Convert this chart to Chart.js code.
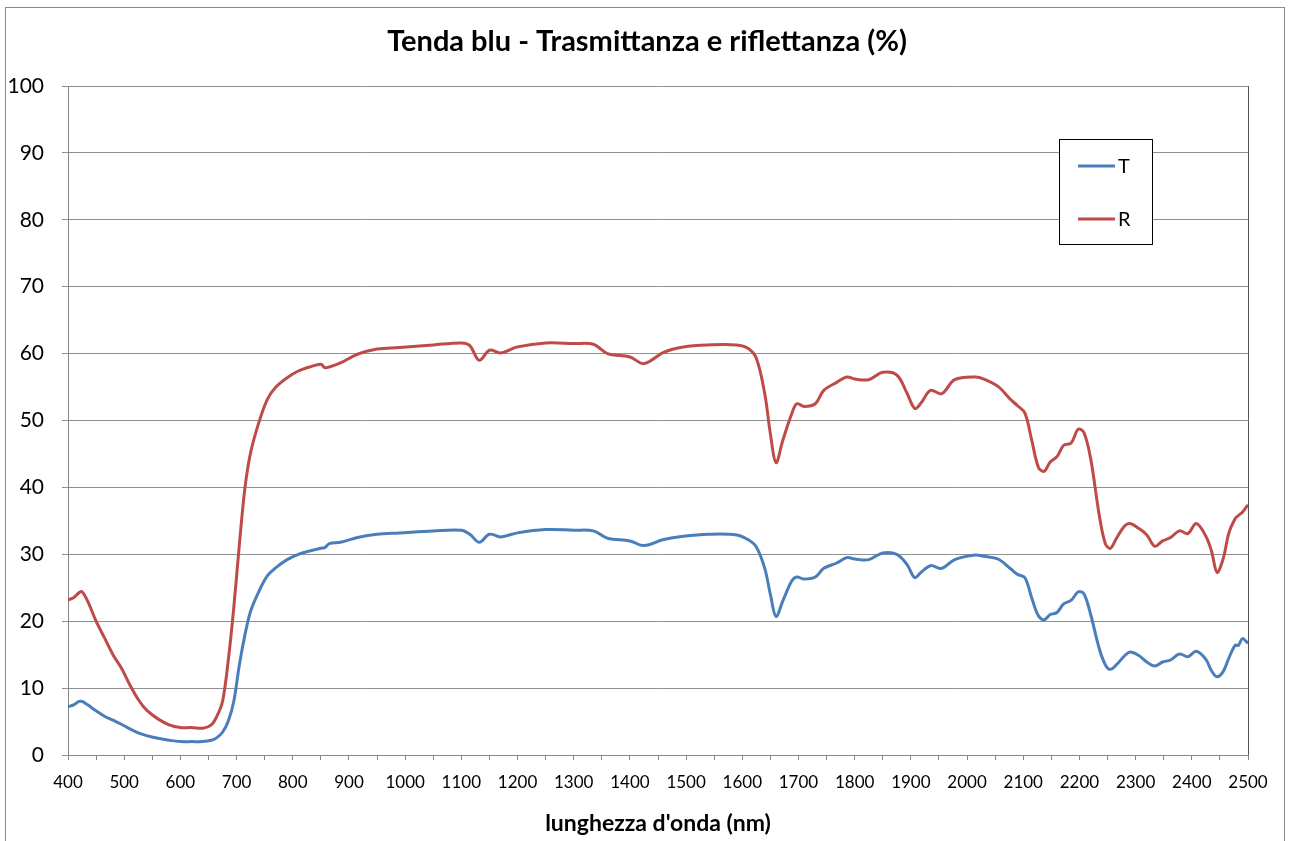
<!DOCTYPE html>
<html>
<head>
<meta charset="utf-8">
<script src="https://cdn.jsdelivr.net/npm/chart.js@4.4.0/dist/chart.umd.min.js"></script>
<style>
  html, body { margin: 0; padding: 0; background: #fff; }
  #wrap { width: 1290px; height: 841px; position: relative; }
</style>
</head>
<body>
<div id="wrap"><canvas id="chart" width="1290" height="841"></canvas></div>
<script>
// wavelength (nm)
const wavelengths = [
  400, 410, 420, 425, 435, 450, 465, 480, 495, 510, 525, 540, 560, 580, 600, 620, 640, 655, 665, 675,
  685, 695, 705, 715, 725, 740, 755, 770, 790, 810, 830, 850, 857, 865, 885, 915, 950, 990, 1050, 1100,
  1115, 1132, 1150, 1170, 1200, 1250, 1300, 1335, 1360, 1400, 1425, 1460, 1495, 1540, 1590, 1610, 1625, 1640, 1650, 1660,
  1672, 1688, 1697, 1710, 1730, 1745, 1768, 1786, 1800, 1825, 1850, 1875, 1893, 1907, 1918, 1935, 1955, 1978, 2015, 2030,
  2055, 2078, 2090, 2103, 2115, 2127, 2137, 2148, 2160, 2172, 2185, 2198, 2208, 2220, 2235, 2246, 2255, 2266, 2280, 2290,
  2305, 2320, 2334, 2348, 2362, 2378, 2393, 2408, 2425, 2435, 2445, 2456, 2466, 2477, 2483, 2490, 2500
];
// Trasmittanza (%)
const trasmittanza = [
  7.2, 7.5, 8.0, 8.0, 7.5, 6.6, 5.8, 5.2, 4.6, 3.9, 3.3, 2.9, 2.5, 2.2, 2.0, 2.0, 2.0, 2.2, 2.6, 3.4,
  5.0, 8.0, 13.5, 18.0, 21.5, 24.5, 26.8, 28.0, 29.2, 30.0, 30.5, 30.9, 31.0, 31.6, 31.8, 32.5, 33.0, 33.2, 33.5, 33.6,
  33.0, 31.8, 33.0, 32.6, 33.2, 33.7, 33.6, 33.5, 32.4, 32.0, 31.3, 32.2, 32.7, 33.0, 32.9, 32.2, 31.1, 27.9, 24.0, 20.7,
  23.0, 26.0, 26.6, 26.3, 26.6, 27.9, 28.7, 29.5, 29.3, 29.2, 30.2, 30.0, 28.5, 26.5, 27.3, 28.3, 27.9, 29.2, 29.9, 29.7,
  29.3, 27.8, 27.0, 26.5, 23.5, 20.8, 20.2, 21.0, 21.3, 22.6, 23.1, 24.4, 24.1, 21.0, 16.0, 13.5, 12.8, 13.5, 14.8, 15.4,
  14.9, 13.9, 13.3, 13.9, 14.2, 15.1, 14.7, 15.5, 14.3, 12.6, 11.7, 12.5, 14.5, 16.4, 16.4, 17.4, 16.7
];
// Riflettanza (%)
const riflettanza = [
  23.2, 23.5, 24.3, 24.4, 23.0, 20.0, 17.5, 15.0, 13.0, 10.5, 8.3, 6.7, 5.4, 4.5, 4.1, 4.1, 4.0, 4.5, 5.8, 8.0,
  14.0, 22.0, 31.5, 40.0, 45.2, 49.8, 53.2, 55.0, 56.4, 57.4, 58.0, 58.4, 57.9, 58.0, 58.6, 59.9, 60.7, 60.9, 61.3, 61.6,
  61.2, 59.0, 60.5, 60.1, 61.0, 61.6, 61.5, 61.4, 60.0, 59.5, 58.5, 60.2, 61.0, 61.3, 61.3, 60.8, 59.3, 54.0, 48.0, 43.7,
  47.0, 51.0, 52.5, 52.1, 52.5, 54.5, 55.7, 56.5, 56.2, 56.1, 57.2, 56.8, 54.1, 51.8, 52.6, 54.5, 54.0, 56.1, 56.5, 56.2,
  55.1, 53.1, 52.2, 51.1, 47.1, 43.0, 42.4, 43.8, 44.6, 46.3, 46.6, 48.7, 48.2, 44.3, 36.0, 31.6, 30.9, 32.4, 34.2, 34.6,
  33.9, 32.9, 31.2, 32.0, 32.5, 33.5, 33.1, 34.6, 32.7, 30.5, 27.3, 29.4, 33.2, 35.3, 35.8, 36.3, 37.4
];
const seriesLabels = ["T", "R"];
const chartTitle = "Tenda blu - Trasmittanza e riflettanza (%)";
const xTitle = "lunghezza d'onda (nm)";

const FONT = "Lato, 'Open Sans', sans-serif";

// title, outer frame, plot border and the boxed legend
const decorations = {
  id: "decorations",
  beforeDraw(chart) {
    const c = chart.ctx;
    c.save();
    c.fillStyle = "#fff";
    c.fillRect(0, 0, chart.width, chart.height);
    c.strokeStyle = "#8a8a8a";
    c.lineWidth = 1;
    c.strokeRect(5.5, 7.5, chart.width - 11, chart.height);
    c.restore();
  },
  afterDraw(chart) {
    const c = chart.ctx;
    const a = chart.chartArea;
    c.save();
    // right edge of plot area
    c.strokeStyle = "#555";
    c.lineWidth = 1;
    c.beginPath();
    c.moveTo(Math.round(a.right) + 0.5, a.top);
    c.lineTo(Math.round(a.right) + 0.5, a.bottom);
    c.stroke();

    // title
    c.fillStyle = "#000";
    c.font = "bold 29px " + FONT;
    c.textAlign = "center";
    c.textBaseline = "middle";
    c.fillText(chartTitle, 647, 42);

    // legend
    const lx = 1059, ly = 139, lw = 93, lh = 105;
    c.fillStyle = "#fff";
    c.fillRect(lx, ly, lw, lh);
    c.strokeStyle = "#000";
    c.lineWidth = 1;
    c.strokeRect(lx + 0.5, ly + 0.5, lw, lh);
    c.font = "20px " + FONT;
    c.textAlign = "left";
    chart.data.datasets.forEach((ds, i) => {
      const y = ly + 27 + i * 53;
      c.strokeStyle = ds.borderColor;
      c.lineWidth = 3;
      c.beginPath();
      c.moveTo(lx + 19, y);
      c.lineTo(lx + 56, y);
      c.stroke();
      c.fillStyle = "#000";
      c.fillText(ds.label, lx + 59, y + 1);
    });
    c.restore();
  }
};

new Chart(document.getElementById("chart"), {
  type: "line",
  data: {
    labels: wavelengths,
    datasets: [
      {
        label: seriesLabels[0],
        data: wavelengths.map((w, i) => ({ x: w, y: trasmittanza[i] })),
        borderColor: "#4a7ebb",
        borderWidth: 3,
        pointRadius: 0,
        tension: 0.35,
        fill: false
      },
      {
        label: seriesLabels[1],
        data: wavelengths.map((w, i) => ({ x: w, y: riflettanza[i] })),
        borderColor: "#be4b48",
        borderWidth: 3,
        pointRadius: 0,
        tension: 0.35,
        fill: false
      }
    ]
  },
  options: {
    responsive: false,
    animation: false,
    layout: { padding: { top: 86, right: 42, left: 0, bottom: 0 } },
    plugins: {
      legend: { display: false },
      title: { display: false },
      tooltip: { enabled: false }
    },
    scales: {
      x: {
        type: "linear",
        min: 400,
        max: 2500,
        afterFit(scale) { scale.height = 86; },
        border: { color: "#868686", width: 1 },
        grid: { drawOnChartArea: false, drawTicks: true, tickLength: 5, color: "#868686" },
        ticks: {
          stepSize: 50,
          autoSkip: false,
          maxRotation: 0,
          padding: 12,
          color: "#000",
          font: { family: FONT, size: 17 },
          callback: (v) => (v % 100 === 0 ? v : "")
        },
        title: {
          display: true,
          text: xTitle,
          color: "#000",
          font: { family: FONT, size: 23, weight: "bold" },
          padding: { top: 0, bottom: 4 }
        }
      },
      y: {
        min: 0,
        max: 100,
        afterFit(scale) { scale.width = 68; },
        border: { color: "#868686", width: 1 },
        grid: { color: "#909090", lineWidth: 1, tickLength: 6 },
        ticks: {
          stepSize: 10,
          padding: 18,
          color: "#000",
          font: { family: FONT, size: 21 }
        }
      }
    }
  },
  plugins: [decorations]
});
</script>
</body>
</html>
